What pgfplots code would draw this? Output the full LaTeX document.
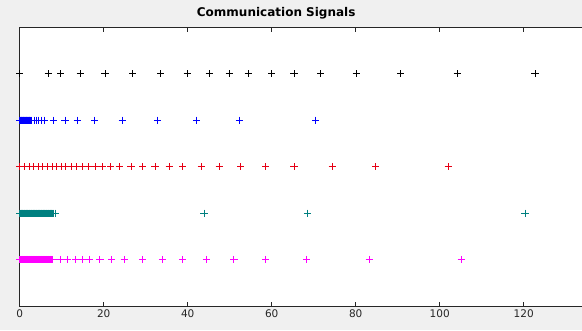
\documentclass[border=0pt]{standalone}
\usepackage{pgfplots}
\pgfplotsset{compat=1.18}
\usepackage{fontspec}
\setmainfont{DejaVu Sans}
\definecolor{figbg}{HTML}{F0F0F0}
\definecolor{axcol}{HTML}{262626}
\definecolor{mblue}{RGB}{0,0,255}
\definecolor{mred}{RGB}{230,0,20}
\definecolor{mteal}{RGB}{0,128,128}
\definecolor{mmag}{RGB}{255,0,255}
\begin{document}
\begin{tikzpicture}[x=1pt,y=1pt]
\fill[figbg] (0,0) rectangle (582,330);
\begin{axis}[
  at={(19.7pt,24pt)}, anchor=south west,
  scale only axis, width=588pt, height=278.7pt,
  xmin=0, xmax=140, ymin=0, ymax=6,
  xtick={0,20,40,60,80,100,120}, ytick=\empty,
  tick align=inside, major tick length=4.5pt,
  axis line style={axcol, line width=0.7pt},
  every tick/.style={axcol, line width=0.6pt},
  tick label style={font=\fontsize{10.5}{12}\selectfont, text=axcol},
  /pgf/number format/assume math mode=true,
  axis background/.style={fill=white},
  title={\bfseries Communication Signals},
  title style={font=\fontsize{12}{14}\selectfont, text=black, yshift=-1.5pt, xshift=-37.5pt},
  clip=false,
  every axis plot/.append style={only marks, mark=+, mark size=3.6pt, mark options={line width=0.85pt}},
]
% black row
\addplot[black] coordinates {
(0,5)(6.8,5)(9.8,5)(14.4,5)(20.3,5)(26.9,5)(33.6,5)(39.9,5)(45.1,5)(49.9,5)(54.4,5)(60.0,5)(65.3,5)(71.7,5)(80.1,5)(90.7,5)(104.2,5)(122.7,5)};
% blue row
\addplot[mblue] coordinates {
(0,4)(0.1,4)(0.2,4)(0.3,4)(0.4,4)(0.5,4)(0.6,4)(0.7,4)(0.8,4)(0.9,4)(1.0,4)(1.1,4)(1.2,4)(1.3,4)(1.4,4)(1.5,4)(1.6,4)(1.7,4)(1.8,4)(1.9,4)(2.0,4)(2.1,4)(2.2,4)(2.3,4)(2.4,4)(2.5,4)
(2.9,4)(3.4,4)(3.9,4)(4.5,4)(5.2,4)(6.0,4)(8.0,4)(10.8,4)(13.7,4)(17.8,4)(24.4,4)(32.8,4)(42.1,4)(52.3,4)(70.5,4)};
% red row
\addplot[mred] coordinates {
(0,3)(1.1,3)(2.2,3)(3.3,3)(4.4,3)(5.5,3)(6.6,3)(7.7,3)(8.8,3)(9.9,3)(11.0,3)(12.2,3)(13.5,3)(14.9,3)(16.4,3)(18.0,3)(19.8,3)(21.7,3)(23.7,3)(26.5,3)(29.3,3)(32.2,3)(35.6,3)(38.8,3)(43.2,3)(47.5,3)(52.6,3)(58.6,3)(65.3,3)(74.4,3)(84.8,3)(102.0,3)};
% teal row
\addplot[mteal] coordinates {
(0,2)(0.15,2)(0.3,2)(0.45,2)(0.6,2)(0.75,2)(0.9,2)(1.05,2)(1.2,2)(1.35,2)(1.5,2)(1.65,2)(1.8,2)(1.95,2)(2.1,2)(2.25,2)(2.4,2)(2.55,2)(2.7,2)(2.85,2)(3.0,2)(3.15,2)(3.3,2)(3.45,2)(3.6,2)(3.75,2)(3.9,2)(4.05,2)(4.2,2)(4.35,2)(4.5,2)(4.65,2)(4.8,2)(4.95,2)(5.1,2)(5.25,2)(5.4,2)(5.55,2)(5.7,2)(5.85,2)(6.0,2)(6.15,2)(6.3,2)(6.45,2)(6.6,2)(6.75,2)(6.9,2)(7.05,2)(7.2,2)(7.35,2)(7.5,2)(7.65,2)(7.8,2)(7.95,2)
(8.5,2)(43.9,2)(68.5,2)(120.3,2)};
% magenta row
\addplot[mmag] coordinates {
(0,1)(0.15,1)(0.3,1)(0.45,1)(0.6,1)(0.75,1)(0.9,1)(1.05,1)(1.2,1)(1.35,1)(1.5,1)(1.65,1)(1.8,1)(1.95,1)(2.1,1)(2.25,1)(2.4,1)(2.55,1)(2.7,1)(2.85,1)(3.0,1)(3.15,1)(3.3,1)(3.45,1)(3.6,1)(3.75,1)(3.9,1)(4.05,1)(4.2,1)(4.35,1)(4.5,1)(4.65,1)(4.8,1)(4.95,1)(5.1,1)(5.25,1)(5.4,1)(5.55,1)(5.7,1)(5.85,1)(6.0,1)(6.15,1)(6.3,1)(6.45,1)(6.6,1)(6.75,1)(6.9,1)(7.05,1)(7.2,1)(7.35,1)(7.5,1)(7.65,1)(7.8,1)
(9.6,1)(11.4,1)(13.2,1)(14.9,1)(16.7,1)(19.1,1)(21.9,1)(24.9,1)(29.3,1)(34.0,1)(38.8,1)(44.4,1)(51.0,1)(58.6,1)(68.3,1)(83.2,1)(105.1,1)};
\end{axis}
\pgfresetboundingbox
\path (0,0) rectangle (582,330);
\end{tikzpicture}
\end{document}
